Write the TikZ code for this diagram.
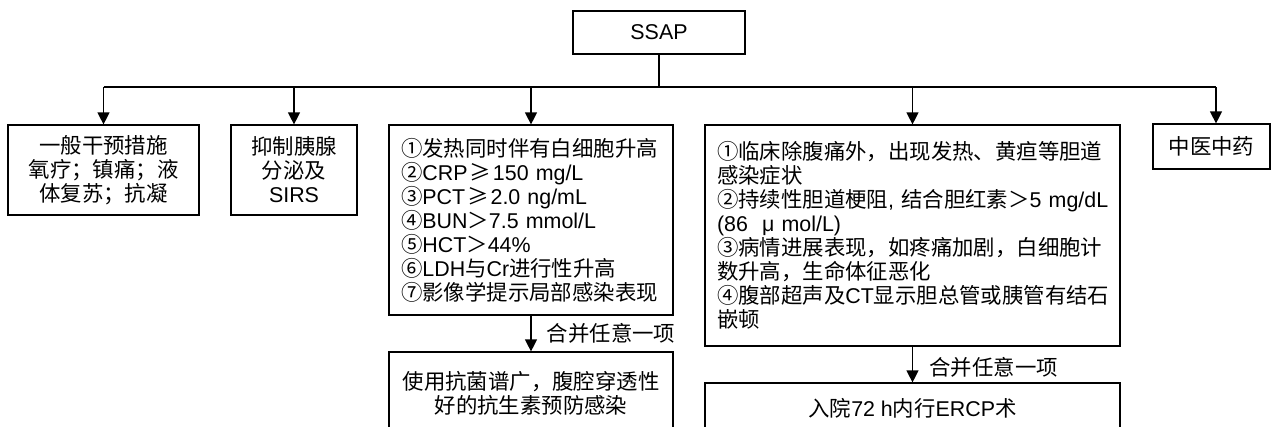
\documentclass[tikz,border=0pt]{standalone}
\usepackage{fontspec}
\setmainfont{Noto Sans CJK SC}
\newfontfamily\en{Liberation Sans}
\usetikzlibrary{arrows.meta}
\newcommand\cmpge{\hspace{2pt}≥\hspace{2pt}}

\begin{document}
\begin{tikzpicture}[x=1pt,y=-1pt,line width=1.2pt,
  box/.style={draw, inner sep=0pt, align=center},
  >={Triangle[length=12pt,width=12pt]},
  font=\fontsize{21.4}{24}\selectfont]
\useasboundingbox (0,0) rectangle (1271,426);
\clip (0,0) rectangle (1271,426);
\node[box, minimum width=172pt, minimum height=43pt] (ssap) at (659,32.5) {\en SSAP};
\node[box, minimum width=191pt, minimum height=90pt] (gen) at (103.5,170) {一般干预措施\\氧疗；镇痛；液\\体复苏；抗凝};
\node[box, minimum width=126pt, minimum height=90pt] (inh) at (294,170) {抑制胰腺\\分泌及\\{\en SIRS}};
\node[box, minimum width=284pt, minimum height=190pt, text width=260pt, align=left] (lab) at (531,220) {①发热同时伴有白细胞升高\\
②{\en CRP}\cmpge{\en 150 mg/L}\\
③{\en PCT}\cmpge{\en 2.0 ng/mL}\\
④{\en BUN}＞{\en 7.5 mmol/L}\\
⑤{\en HCT}＞{\en 44\%}\\
⑥{\en LDH}与{\en Cr}进行性升高\\
⑦影像学提示局部感染表现};
\node[box, minimum width=415pt, minimum height=221pt, text width=391pt, align=left] (bil) at (912.5,235.5) {①临床除腹痛外，出现发热、黄疸等胆道\\
感染症状\\
②持续性胆道梗阻{\en ,}~结合胆红素＞{\en 5~mg/dL}\\
{\en (86~~μ mol/L)}\\
③病情进展表现，如疼痛加剧，白细胞计\\
数升高，生命体征恶化\\
④腹部超声及{\en CT}显示胆总管或胰管有结石\\
嵌顿};
\node[box, minimum width=117pt, minimum height=45pt] (tcm) at (1211.5,146.5) {中医中药};
\node[box, minimum width=284pt, minimum height=82pt] (abx) at (531,393) {使用抗菌谱广，腹腔穿透性\\好的抗生素预防感染};
\node[box, minimum width=415pt, minimum height=50pt] (ercp) at (912.5,408) {入院{\en 72 h}内行{\en ERCP}术};
\coordinate (bus) at (659,87);
% top bus
\draw (ssap) -- (bus);
\draw (gen.north |- bus) -- ([xshift=4.5pt]tcm.north |- bus);
\draw[->] (gen.north |- bus) -- (gen.north);
\draw[->] (inh.north |- bus) -- (inh.north);
\draw[->] (lab.north |- bus) -- (lab.north);
\draw[->] (bil.north |- bus) -- (bil.north);
\draw[->] ([xshift=4.5pt]tcm.north |- bus) -- ([xshift=4.5pt]tcm.north);
% lower arrows
\draw[->] (lab) -- node[right=12pt] (any1) {合并任意一项} (abx);
\draw[->] (bil) -- node[right=13pt, yshift=-2.5pt] (any2) {合并任意一项} (ercp);
\end{tikzpicture}
\end{document}
